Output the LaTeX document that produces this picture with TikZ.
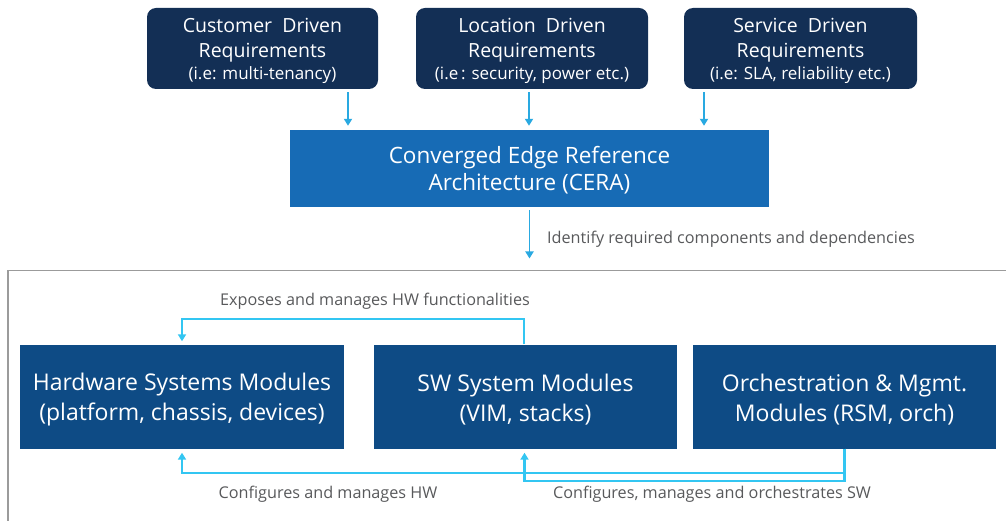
\documentclass[tikz,border=0pt]{standalone}
\usepackage{fontspec}
\setmainfont{Open Sans}
\usetikzlibrary{arrows.meta,calc}
\definecolor{navy}{HTML}{132F55}
\definecolor{cerablue}{HTML}{176BB5}
\definecolor{modblue}{HTML}{0E4B85}
\definecolor{arrblue}{HTML}{29A9E1}
\definecolor{cyanline}{HTML}{33C6F2}
\definecolor{labelgray}{HTML}{58595B}
\definecolor{framegray}{HTML}{9B9B9B}
\begin{document}
\begin{tikzpicture}[x=1pt,y=-1pt,
  reqbox/.style={fill=navy, rounded corners=9pt, minimum height=81pt, text=white,
    align=center, inner sep=0pt, font=\fontsize{19.5}{25}\selectfont},
  cerabox/.style={fill=cerablue, minimum width=479pt, minimum height=77pt, text=white,
    align=center, inner sep=0pt, font=\fontsize{22.5}{27.5}\selectfont},
  modbox/.style={fill=modblue, minimum height=104pt, text=white,
    align=center, inner sep=0pt, font=\fontsize{23}{30}\selectfont},
  lbl/.style={text=labelgray, inner sep=0pt, font=\fontsize{16.2}{19}\selectfont},
  toparr/.style={draw=arrblue, line width=1.8pt, -{Triangle[width=8pt,length=7pt]}},
  conn/.style={draw=cyanline, line width=2.2pt, -{Triangle[width=8pt,length=7pt]}},
  frameline/.style={draw=framegray, line width=1.5pt}
]
\useasboundingbox (0,0) rectangle (1006,521);

% requirement boxes
\node[reqbox, minimum width=231pt] (cust) at (262.5,48.5)
  {\rule{0pt}{20pt}Customer\ \ Driven\\Requirements\\[-3pt]{\fontsize{17}{20}\selectfont (i.e: multi-tenancy)}};
\node[reqbox, minimum width=232pt] (loc) at (532,48.5)
  {\rule{0pt}{20pt}Location\ \ Driven\\Requirements\\[-3pt]{\fontsize{17}{20}\selectfont (i.e\,: security, power etc.)}};
\node[reqbox, minimum width=233pt] (serv) at (800.5,48.5)
  {\rule{0pt}{20pt}Service\ \ Driven\\Requirements\\[-3pt]{\fontsize{17}{20}\selectfont (i.e: SLA, reliability etc.)}};

% CERA
\node[cerabox] (cera) at (529.5,168.5) {\rule{0pt}{20.5pt}Converged Edge Reference\\Architecture (CERA)};

% frame of the module area
\draw[frameline] (8,521) -- (8,270.5) -- (1006,270.5);
\coordinate (ftop) at (529,270.5);

% modules
\node[modbox, minimum width=324pt] (hw) at (182,396.5) {\rule{0pt}{24pt}Hardware Systems Modules\\(platform, chassis, devices)};
\node[modbox, minimum width=303pt] (sw) at (525.5,396.5) {\rule{0pt}{24pt}SW System Modules\\(VIM, stacks)};
\node[modbox, minimum width=303pt] (orch) at (844.5,396.5) {\rule{0pt}{24pt}Orchestration \& Mgmt.\\Modules (RSM, orch)};

% top arrows
\coordinate (a1) at ([xshift=85.5pt,yshift=-3pt]cust.south);
\coordinate (a2) at ([xshift=-3pt,yshift=-3pt]loc.south);
\coordinate (a3) at ([xshift=-96.5pt,yshift=-3pt]serv.south);
\draw[toparr, shorten >=4pt] (a1) -- (a1 |- cera.north);
\draw[toparr, shorten >=4pt] (a2) -- (a2 |- cera.north);
\draw[toparr, shorten >=4pt] (a3) -- (a3 |- cera.north);

\coordinate (a4) at ([yshift=-3pt]cera.south);
\draw[toparr, shorten >=12pt] (a4) -- (a4 |- ftop);
\node[lbl, anchor=west] (ident) at (547,239) {Identify required components and dependencies};

% module connectors
\draw[conn] ([xshift=-1.5pt]sw.north) -- ++(0,-25) -| ([yshift=3pt]hw.north);
\node[lbl] (expo) at (375,301) {Exposes and manages HW functionalities};

\draw[conn] (orch.south) -- ++(0,24) -| ([yshift=-4pt]hw.south);
\draw[conn] (orch.south) -- ++(0,32) -| ([xshift=-1pt,yshift=-4pt]sw.south);
\node[lbl] (cfghw) at (328,494.5) {Configures and manages HW};
\node[lbl] (cfgsw) at (712,494.5) {Configures, manages and orchestrates SW};
\end{tikzpicture}
\end{document}
